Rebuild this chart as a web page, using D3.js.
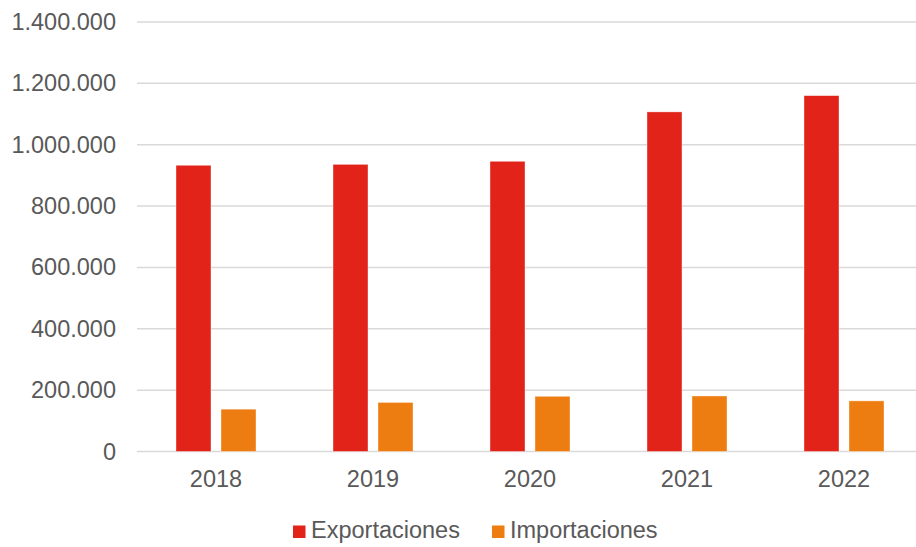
<!DOCTYPE html>
<html>
<head>
<meta charset="utf-8">
<script src="https://cdn.jsdelivr.net/npm/d3@7"></script>
<style>
  html, body { margin: 0; padding: 0; background: #ffffff; }
  svg { display: block; font-family: "Liberation Sans", Arial, sans-serif; }
</style>
</head>
<body>
<script>
// chart data
var years = ["2018", "2019", "2020", "2021", "2022"];
var seriesNames = ["Exportaciones", "Importaciones"];
var exportaciones = [933000, 936000, 946000, 1107000, 1160000];
var importaciones = [138000, 160000, 180000, 181000, 165000];
var yTicks = [0, 200000, 400000, 600000, 800000, 1000000, 1200000, 1400000];

var COLOURS = {
	"Exportaciones": "#E2231A",
	"Importaciones": "#EE7D11"
};

var width = 916, height = 547;
var textColour = "#595959";
var fontSize = "23.5px";

var svg = d3.select("body")
	.append("svg")
	.attr("width", width)
	.attr("height", height);

var x = d3.scaleBand()
	.domain(years)
	.range([137.5, 922.5])
	.paddingInner(0)
	.paddingOuter(0);

var groupWidth = 80;
var inner = d3.scaleBand()
	.domain(seriesNames)
	.range([0, groupWidth])
	.paddingInner(10 / 45);

var y = d3.scaleLinear()
	.domain([0, 1400000])
	.range([451.5, 22]);

var locale = d3.formatLocale({ decimal: ",", thousands: ".", grouping: [3], currency: ["", "€"] });
var fmt = locale.format(",d");

// gridlines
svg.append("g")
	.attr("class", "grid")
	.selectAll("line")
	.data(yTicks)
	.enter().append("line")
	.attr("x1", 137)
	.attr("x2", width)
	.attr("y1", function(d) { return y(d); })
	.attr("y2", function(d) { return y(d); })
	.attr("stroke", "#D9D9D9")
	.attr("stroke-width", 1.5);

// y axis labels
var yAxis = d3.axisLeft(y)
	.tickValues(yTicks)
	.tickFormat(fmt)
	.tickSize(0)
	.tickPadding(0);

var yg = svg.append("g")
	.attr("transform", "translate(116,0)")
	.call(yAxis);
yg.select(".domain").remove();
yg.selectAll("text")
	.attr("fill", textColour)
	.style("font-size", fontSize)
	.style("font-family", "Liberation Sans, Arial, sans-serif");

// x axis labels
var xAxis = d3.axisBottom(x).tickSize(0).tickPadding(0);
var xg = svg.append("g")
	.attr("transform", "translate(0,470)")
	.call(xAxis);
xg.select(".domain").remove();
xg.selectAll("text")
	.attr("dy", "0.71em")
	.attr("fill", textColour)
	.style("font-size", fontSize)
	.style("font-family", "Liberation Sans, Arial, sans-serif");

// bars
var table = years.map(function(yr, i) {
	return { year: yr, values: [
		{ name: "Exportaciones", value: exportaciones[i] },
		{ name: "Importaciones", value: importaciones[i] }
	] };
});

var groups = svg.append("g")
	.attr("class", "bars")
	.selectAll("g")
	.data(table)
	.enter().append("g")
	.attr("transform", function(d) {
		return "translate(" + (x(d.year) + (x.bandwidth() - groupWidth) / 2) + ",0)";
	});

groups.selectAll("rect")
	.data(function(d) { return d.values; })
	.enter().append("rect")
	.attr("x", function(d) { return inner(d.name); })
	.attr("width", inner.bandwidth())
	.attr("y", function(d) { return y(d.value); })
	.attr("height", function(d) { return y(0) - y(d.value); })
	.attr("fill", function(d) { return COLOURS[d.name]; })
	.attr("stroke", "#ffffff")
	.attr("stroke-opacity", 0.5)
	.attr("stroke-width", 0.75);

// legend
var legendItems = [
	{ name: "Exportaciones", x: 293 },
	{ name: "Importaciones", x: 492 }
];

var legend = svg.append("g").attr("class", "legend");
var li = legend.selectAll("g")
	.data(legendItems)
	.enter().append("g")
	.attr("transform", function(d) { return "translate(" + d.x + ",525.5)"; });

li.append("rect")
	.attr("width", 12.5)
	.attr("height", 12.5)
	.attr("fill", function(d) { return COLOURS[d.name]; });

li.append("text")
	.attr("x", 18)
	.attr("y", 12.5)
	.attr("fill", textColour)
	.style("font-size", fontSize)
	.text(function(d) { return d.name; });
</script>
</body>
</html>
